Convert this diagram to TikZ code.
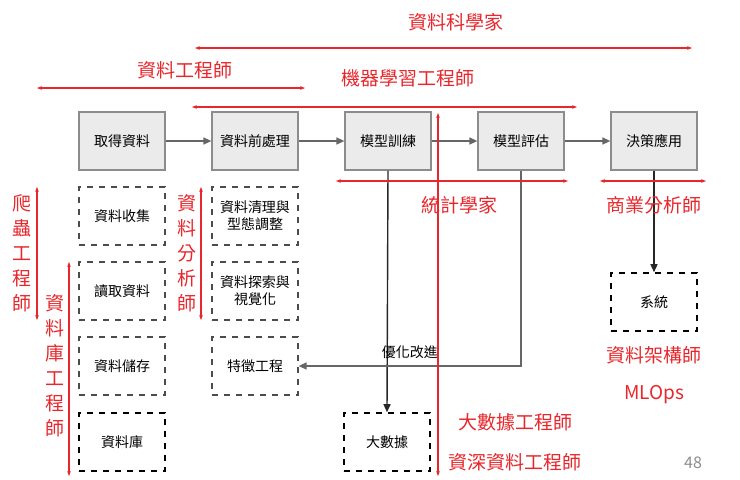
\documentclass[tikz,border=0pt]{standalone}
\usepackage{fontspec}
\setmainfont{Noto Sans CJK TC}
\usetikzlibrary{arrows.meta}
\definecolor{rd}{HTML}{E8262B}
\begin{document}
\begin{tikzpicture}[x=0.5pt,y=-0.5pt,
 gbox/.style={draw=black!45,fill=black!8,line width=0.6pt,minimum width=43pt,minimum height=29pt,font=\fontsize{7}{8.5}\selectfont,align=center},
 dbox/.style={draw=black!70,dashed,line width=0.6pt,minimum width=43pt,minimum height=29pt,font=\fontsize{7}{8.5}\selectfont,align=center},
 ddbox/.style={dbox,draw=black,line width=0.8pt},
 flow/.style={draw=black!60,line width=0.7pt,-{Triangle[length=4pt,width=3.5pt]}},
 down/.style={draw=black!85,line width=0.7pt,-{Triangle[length=4pt,width=3.5pt]}},
 role/.style={draw=rd,line width=0.6pt,{Stealth[length=2.5pt]}-{Stealth[length=2.5pt]}},
 rt/.style={text=rd,font=\fontsize{9.5}{10}\selectfont},
 vt/.style={text=rd,font=\fontsize{9.5}{12.5}\selectfont,align=center}]
\useasboundingbox (0,0) rectangle (740,479);
\node[gbox] (b1) at (122,141) {取得資料};
\node[gbox] (b2) at (255,141) {資料前處理};
\node[gbox] (b3) at (388,141) {模型訓練};
\node[gbox] (b4) at (521,141) {模型評估};
\node[gbox] (b5) at (654,141) {決策應用};
\draw[flow] (b1) -- (b2); \draw[flow] (b2) -- (b3);
\draw[flow] (b3) -- (b4); \draw[flow] (b4) -- (b5);
\node[dbox] (c1) at (122,216) {資料收集};
\node[dbox] (c2) at (122,291) {讀取資料};
\node[dbox] (c3) at (122,366) {資料儲存};
\node[ddbox] (c4) at (122,442) {資料庫};
\node[dbox] (d1) at (255,216) {資料清理與\\型態調整};
\node[dbox] (d2) at (255,291) {資料探索與\\視覺化};
\node[dbox] (d3) at (255,366) {特徵工程};
\node[ddbox] (big) at (387,442) {大數據};
\node[ddbox] (sys) at (654,302) {系統};
\draw[down] (b3.south) -- (big.north);
\draw[down] (b5.south) -- (sys.north);
\draw[flow] (b4.south) |- node[pos=0.75,above,text=black,font=\fontsize{7}{8}\selectfont]{優化改進} (d3.east);
% roles
\coordinate (a1) at (195,48); \coordinate (a2) at (692,48);
\draw[role] (a1) -- (a2);
\node[rt] (t1) at (456,22) {資料科學家};
\coordinate (e1) at (37,88); \coordinate (e2) at (305,88);
\draw[role] (e1) -- (e2);
\node[rt] (t2) at (185,70) {資料工程師};
\coordinate (m1) at (192,107); \coordinate (m2) at (577,107);
\draw[role] (m1) -- (m2);
\node[rt] (t3) at (408,78) {機器學習工程師};
\coordinate (s1) at (336,181); \coordinate (s2) at (568,181);
\draw[role] (s1) -- (s2);
\node[rt] (t4) at (459,205) {統計學家};
\coordinate (u1) at (600,181); \coordinate (u2) at (706,181);
\draw[role] (u1) -- (u2);
\node[rt] (t5) at (654,205) {商業分析師};
\coordinate (v1) at (438,113); \coordinate (v2) at (438,476);
\draw[role] (v1) -- (v2);
\coordinate (p1) at (37,187); \coordinate (p2) at (37,320);
\draw[role] (p1) -- (p2);
\node[vt] (t6) at (22,253) {爬\\蟲\\工\\程\\師};
\coordinate (q1) at (69,262); \coordinate (q2) at (69,476);
\draw[role] (q1) -- (q2);
\node[vt] (t7) at (55,366) {資\\料\\庫\\工\\程\\師};
\coordinate (r1) at (201,187); \coordinate (r2) at (201,320);
\draw[role] (r1) -- (r2);
\node[vt] (t8) at (187,253) {資\\料\\分\\析\\師};
\node[rt] (t9) at (515,422) {大數據工程師};
\node[rt] (t10) at (515,462) {資深資料工程師};
\node[rt] (t11) at (654,355) {資料架構師};
\node[rt] (t12) at (654,395) {MLOps};
\node[text=black!45,font=\fontsize{8}{9}\selectfont] (pg) at (693,463) {48};
\end{tikzpicture}
\end{document}
